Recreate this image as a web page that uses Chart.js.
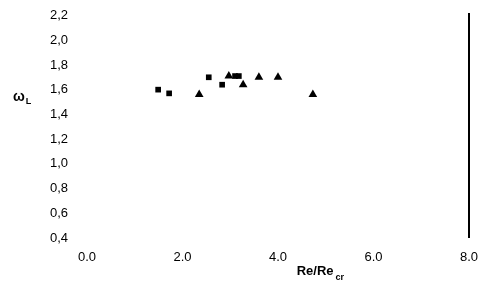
<!DOCTYPE html>
<html><head><meta charset="utf-8">
<script src="https://cdn.jsdelivr.net/npm/chart.js@4"></script>
<style>html,body{margin:0;padding:0;background:#fff}#w{width:480px;height:287px}</style>
</head><body><div id="w"><canvas id="c"></canvas></div>
<script>
const squaresX = [1.49, 1.72, 2.55, 2.83, 3.10, 3.18];
const squaresY = [1.60, 1.57, 1.70, 1.64, 1.71, 1.71];
const trianglesX = [2.35, 2.97, 3.27, 3.60, 4.00, 4.73];
const trianglesY = [1.56, 1.71, 1.64, 1.70, 1.70, 1.56];
const xTicks = [0, 2, 4, 6, 8];
const yTicks = [0.4, 0.6, 0.8, 1.0, 1.2, 1.4, 1.6, 1.8, 2.0, 2.2];
const xTitle = "Re/Re";
const xTitleSub = "cr";
const yTitle = "ω";
const yTitleSub = "L";

const toPts = (xs, ys) => xs.map((x, i) => ({x, y: ys[i]}));
const FONT = "'Liberation Sans', Arial, sans-serif";

const titles = {
  id: 'titles',
  afterDraw(chart) {
    const ctx = chart.ctx;
    ctx.save();
    ctx.fillStyle = '#000';
    ctx.textBaseline = 'alphabetic';
    ctx.textAlign = 'left';
    ctx.font = "bold 13px " + FONT;
    const xs = chart.scales.x;
    const sx = xs.getPixelForValue(4.6) - 10;
    ctx.fillText(xTitle, sx, 275);
    const w = ctx.measureText(xTitle).width;
    ctx.font = "bold 9px " + FONT;
    ctx.fillText(xTitleSub, sx + w + 2, 280);
    ctx.font = "bold 14px " + FONT;
    ctx.fillText(yTitle, 13, 101);
    const w2 = ctx.measureText(yTitle).width;
    ctx.font = "bold 9px " + FONT;
    ctx.fillText(yTitleSub, 13 + w2 + 1, 104);
    ctx.restore();
  }
};

const chart = new Chart(document.getElementById('c'), {
  type: 'scatter',
  data: {
    datasets: [
      {data: toPts(squaresX, squaresY), pointStyle: 'rect', pointRadius: 4,
       backgroundColor: '#000', borderColor: '#000', borderWidth: 0},
      {data: toPts(trianglesX, trianglesY), pointStyle: 'triangle', pointRadius: 5,
       backgroundColor: '#000', borderColor: '#000', borderWidth: 0}
    ]
  },
  options: {
    responsive: true, maintainAspectRatio: false, animation: false,
    layout: {padding: {left: 0, right: 11, top: 13, bottom: 0}},
    plugins: {legend: {display: false}, tooltip: {enabled: false}},
    scales: {
      x: {
        type: 'linear', min: 0, max: 8,
        afterBuildTicks: s => { s.ticks = xTicks.map(v => ({value: v})); },
        afterFit: s => { s.height = 49; },
        border: {display: false},
        grid: {
          drawTicks: true, tickLength: 12, tickColor: 'rgba(0,0,0,0)',
          color: c => (c.tick && c.tick.value === 8) ? '#000' : 'rgba(0,0,0,0)',
          lineWidth: c => (c.tick && c.tick.value === 8) ? 2 : 0
        },
        ticks: {
          padding: 0, color: '#000',
          font: {family: FONT, size: 13},
          callback: v => Number(v).toFixed(1)
        }
      },
      y: {
        type: 'linear', min: 0.4, max: 2.22,
        afterBuildTicks: s => { s.ticks = yTicks.map(v => ({value: v})); },
        afterFit: s => { s.width = 87; },
        border: {display: false},
        grid: {display: true, drawOnChartArea: false, drawTicks: true,
               tickLength: 19, tickColor: 'rgba(0,0,0,0)'},
        ticks: {
          padding: 0, color: '#000',
          font: {family: FONT, size: 13},
          callback: v => Number(v).toFixed(1).replace('.', ',')
        }
      }
    }
  },
  plugins: [titles]
});
</script>
</body></html>
